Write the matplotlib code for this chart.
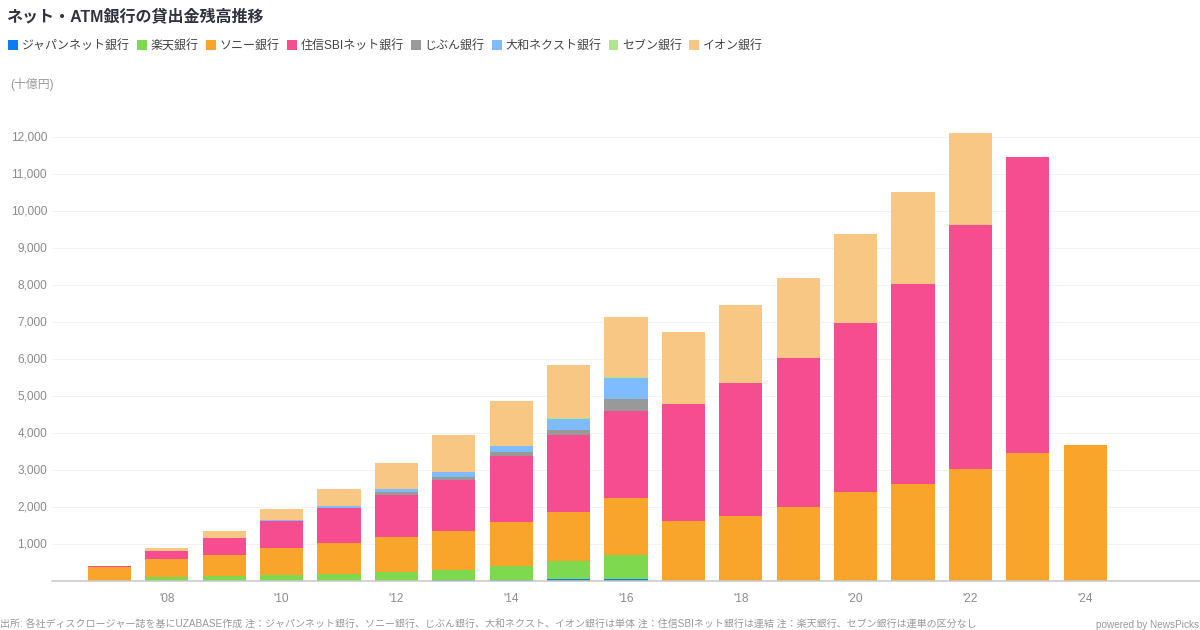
import matplotlib
matplotlib.use("Agg")
import matplotlib.pyplot as plt
from matplotlib.transforms import ScaledTranslation
import numpy as np

plt.rcParams['font.family'] = ['Liberation Sans', 'Noto Sans CJK JP', 'DejaVu Sans']

years = list(range(2007, 2025))
xtick_years = [2008, 2010, 2012, 2014, 2016, 2018, 2020, 2022, 2024]
ytick_values = [1000, 2000, 3000, 4000, 5000, 6000, 7000, 8000, 9000, 10000, 11000, 12000]

names = ['ジャパンネット銀行', '楽天銀行', 'ソニー銀行', '住信SBIネット銀行', 'じぶん銀行', '大和ネクスト銀行', 'セブン銀行', 'イオン銀行']
colors = ['#0a7df0', '#7ed94e', '#f9a42a', '#f64d90', '#999999', '#7fbcff', '#b0e68c', '#f9c784']

japannet = [8, 8, 8, 10, 10, 12, 15, 20, 54, 60, 0, 0, 0, 0, 0, 0, 0, 0]
rakuten  = [0, 112, 118, 143, 188, 222, 282, 376, 477, 643, 0, 0, 0, 0, 0, 0, 0, 0]
sony     = [362, 475, 586, 739, 829, 964, 1054, 1189, 1343, 1540, 1610, 1757, 2000, 2405, 2620, 3027, 3460, 3676]
sbi      = [35, 215, 441, 738, 955, 1126, 1388, 1802, 2072, 2352, 3175, 3593, 4027, 4568, 5407, 6593, 8000, 0]
jibun    = [0, 0, 0, 0, 0, 72, 72, 108, 126, 324, 0, 0, 0, 0, 0, 0, 0, 0]
daiwa    = [0, 0, 0, 10, 45, 81, 126, 145, 315, 558, 0, 0, 0, 0, 0, 0, 0, 0]
seven    = [0, 0, 0, 0, 0, 0, 8, 8, 8, 28, 0, 0, 0, 0, 0, 0, 0, 0]
aeon     = [0, 90, 189, 297, 468, 712, 1010, 1217, 1443, 1630, 1945, 2110, 2163, 2405, 2486, 2488, 0, 0]
series = [japannet, rakuten, sony, sbi, jibun, daiwa, seven, aeon]

W, H = 1200, 630
fig = plt.figure(figsize=(12, 6.3), dpi=100, facecolor='white')
ax = fig.add_axes([52 / W, (H - 581) / H, 1148 / W, (581 - 100) / H])
ax.set_xlim(2006, 2026)
ax.set_ylim(0, (581 - 100) / 37 * 1000)

bottom = np.zeros(len(years))
for name, color, vals in zip(names, colors, series):
    vals = np.array(vals, dtype=float)
    ax.bar(years, vals, width=0.75, bottom=bottom, color=color, label=name,
           linewidth=0, zorder=3)
    bottom += vals

ax.set_yticks(ytick_values)
ax.set_yticklabels([f'{v:,}' for v in ytick_values], fontsize=8.6, color='#8c8c8c')
ax.set_xticks(xtick_years)
ax.set_xticklabels([f"'{y % 100:02d}" for y in xtick_years], fontsize=8.6, color='#8c8c8c')
ax.tick_params(axis='both', length=0)
ax.tick_params(axis='y', pad=3.6)
ax.tick_params(axis='x', pad=8.3)
up = ScaledTranslation(0, 1 / 100, fig.dpi_scale_trans)
for lab in ax.get_yticklabels():
    lab.set_transform(lab.get_transform() + up)
ax.grid(axis='y', color='#f3f3f3', linewidth=0.72, zorder=0)
ax.set_axisbelow(True)
for s in ['top', 'right', 'left']:
    ax.spines[s].set_visible(False)
ax.spines['bottom'].set_color('#c8c8c8')
ax.spines['bottom'].set_linewidth(1.1)
ax.spines['bottom'].set_zorder(5)

fig.text(6 / W, 1 - 16 / H, 'ネット・ATM銀行の貸出金残高推移', fontsize=11.55, fontweight='bold',
         color='#333340', ha='left', va='center')
handles, labels = ax.get_legend_handles_labels()
fig.legend(handles, labels, loc='upper left', bbox_to_anchor=(8 / W, 1 - 40 / H), ncol=8,
           frameon=False, fontsize=8.64, handlelength=0.83, handleheight=0.83,
           handletextpad=0.33, columnspacing=0.58, borderpad=0, borderaxespad=0,
           labelcolor='#444444')
fig.text(10 / W, 1 - 84 / H, '(十億円)', fontsize=8.6, color='#999999', ha='left', va='center')
fig.text(0, 1 - 628 / H,
         '出所: 各社ディスクロージャー誌を基にUZABASE作成 注：ジャパンネット銀行、ソニー銀行、じぶん銀行、大和ネクスト、イオン銀行は単体 注：住信SBIネット銀行は連結 注：楽天銀行、セブン銀行は連単の区分なし',
         fontsize=7.2, color='#999999', ha='left', va='baseline')
fig.text(1199 / W, 1 - 628 / H, 'powered by NewsPicks', fontsize=7.2, color='#999999',
         ha='right', va='baseline')

fig.savefig('out.png', dpi=100, facecolor='white')
